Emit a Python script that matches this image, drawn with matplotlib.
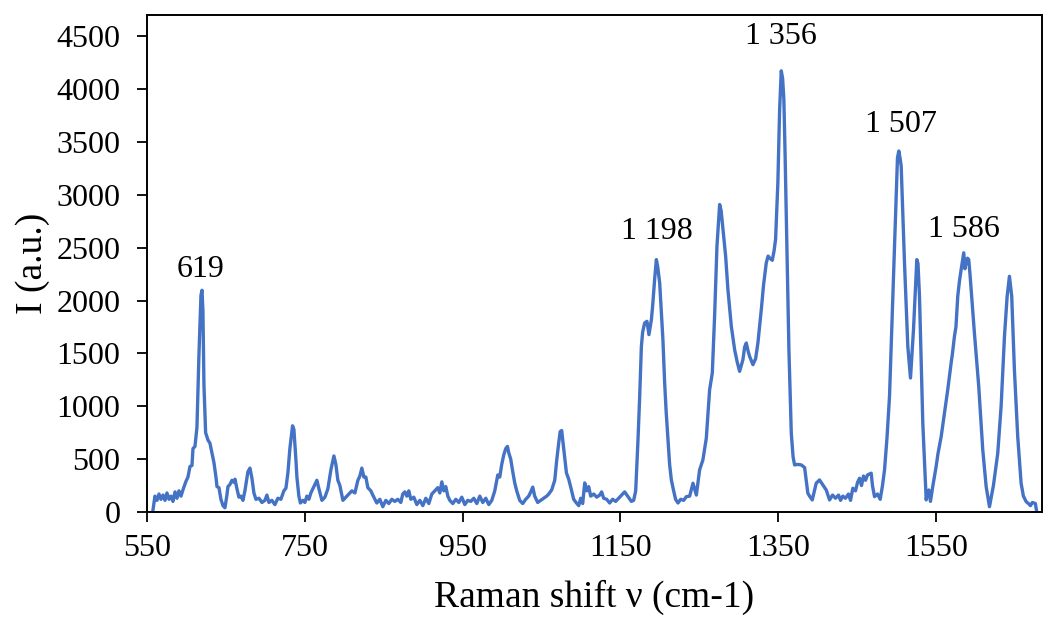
import matplotlib
matplotlib.use("Agg")
import matplotlib.pyplot as plt

# Raman spectrum
shift = [
    557.6, 560.1, 562.7, 565.2, 567.7, 570.3, 572.8, 575.3, 577.9, 580.4,
    582.9, 585.5, 588.0, 590.5, 593.1, 595.6, 599.4, 601.9, 604.5, 607.0,
    608.3, 610.8, 613.3, 615.9, 618.4, 619.7, 620.9, 622.2, 624.3, 627.3,
    629.8, 632.3, 634.9, 637.4, 638.7, 641.2, 643.7, 646.3, 648.8, 651.3,
    652.6, 655.1, 657.7, 660.2, 661.5, 664.0, 666.5, 669.1, 671.6, 674.1,
    677.9, 680.5, 683.0, 685.5, 688.1, 691.9, 695.7, 699.5, 702.0, 704.5,
    708.3, 712.1, 715.9, 719.7, 723.5, 726.1, 728.6, 731.1, 734.5, 736.2,
    738.7, 740.0, 742.5, 744.4, 747.6, 750.1, 752.7, 755.2, 757.7, 760.3,
    762.8, 765.3, 767.9, 770.4, 771.7, 775.5, 779.3, 783.1, 786.9, 789.4,
    791.9, 794.5, 798.3, 802.1, 805.9, 809.7, 813.5, 817.3, 819.8, 822.3,
    824.9, 827.4, 829.9, 833.7, 837.5, 841.3, 845.1, 848.9, 852.7, 856.5,
    860.3, 864.1, 867.9, 871.7, 874.2, 876.8, 879.3, 881.8, 884.4, 888.2,
    892.0, 895.8, 899.6, 903.4, 907.2, 911.0, 914.8, 918.6, 921.1, 923.7,
    926.2, 928.7, 931.3, 933.8, 937.6, 941.4, 945.2, 949.0, 952.8, 956.6,
    960.4, 964.2, 968.0, 971.8, 975.6, 979.4, 983.2, 987.0, 990.8, 994.6,
    997.1, 999.6, 1002.2, 1004.7, 1006.9, 1008.5, 1011.0, 1013.6, 1016.1, 1018.6,
    1022.4, 1026.2, 1030.0, 1033.8, 1036.4, 1038.9, 1041.4, 1045.2, 1049.0, 1052.8,
    1056.6, 1059.2, 1063.0, 1066.8, 1069.3, 1071.8, 1073.7, 1075.6, 1078.2, 1081.6,
    1084.5, 1087.9, 1090.8, 1094.3, 1097.2, 1099.7, 1102.2, 1104.8, 1107.3, 1109.8,
    1112.4, 1116.2, 1120.0, 1123.8, 1126.3, 1128.8, 1132.6, 1136.4, 1140.2, 1144.0,
    1147.8, 1151.6, 1155.4, 1159.2, 1163.9, 1166.8, 1169.4, 1172.3, 1174.5, 1176.6,
    1178.2, 1180.8, 1183.7, 1186.2, 1189.3, 1190.9, 1193.4, 1195.6, 1197.3, 1199.8,
    1201.9, 1203.9, 1206.1, 1208.0, 1210.3, 1212.4, 1214.6, 1217.5, 1220.0, 1223.0,
    1226.4, 1230.2, 1233.6, 1237.8, 1242.0, 1246.3, 1250.4, 1254.6, 1258.9, 1263.1,
    1266.5, 1269.4, 1272.4, 1275.8, 1277.7, 1280.0, 1283.4, 1286.3, 1290.6, 1294.8,
    1298.0, 1301.1, 1303.0, 1305.3, 1307.5, 1309.6, 1311.9, 1313.8, 1318.0, 1321.4,
    1324.3, 1326.4, 1328.6, 1331.5, 1334.9, 1337.2, 1339.1, 1342.5, 1344.8, 1346.7,
    1349.6, 1351.8, 1353.9, 1355.6, 1357.2, 1358.7, 1360.3, 1363.6, 1366.6, 1368.9,
    1370.8, 1374.6, 1379.3, 1383.5, 1387.6, 1389.8, 1393.2, 1398.2, 1402.4, 1406.2,
    1410.9, 1415.1, 1418.9, 1422.7, 1426.5, 1429.0, 1431.9, 1435.3, 1439.1, 1441.7,
    1444.6, 1448.0, 1450.6, 1453.1, 1455.6, 1458.1, 1460.7, 1463.2, 1467.9, 1469.5,
    1472.1, 1475.9, 1479.3, 1482.2, 1484.8, 1487.9, 1491.1, 1495.3, 1499.6, 1501.2,
    1502.9, 1504.4, 1505.9, 1510.1, 1514.3, 1517.7, 1521.5, 1525.7, 1527.2, 1529.1,
    1533.3, 1537.6, 1539.2, 1540.9, 1543.0, 1545.9, 1550.2, 1552.5, 1556.6, 1560.7,
    1564.9, 1569.2, 1570.9, 1573.4, 1575.3, 1577.6, 1579.7, 1581.9, 1585.2, 1586.7,
    1588.2, 1589.9, 1591.5, 1593.1, 1594.6, 1596.2, 1598.7, 1604.2, 1609.3, 1613.6,
    1617.8, 1620.3, 1622.8, 1628.3, 1632.6, 1636.8, 1640.2, 1643.1, 1646.0, 1649.4,
    1653.6, 1657.9, 1660.8, 1664.3, 1667.2, 1669.7, 1672.2, 1676.0, 1677.7,
]
intensity = [
    20, 150, 110, 170, 120, 160, 110, 180, 120, 150,
    100, 190, 130, 200, 150, 210, 290, 330, 430, 440,
    600, 620, 800, 1500, 2050, 2097, 1900, 1200, 750, 680,
    650, 560, 465, 330, 240, 230, 120, 60, 40, 160,
    240, 260, 300, 280, 310, 220, 140, 150, 110, 200,
    380, 415, 320, 180, 120, 130, 90, 110, 160, 90,
    110, 70, 130, 120, 200, 225, 370, 600, 815, 780,
    500, 330, 150, 85, 110, 90, 150, 120, 180, 220,
    260, 300, 220, 150, 110, 140, 220, 400, 530, 450,
    300, 250, 110, 140, 170, 200, 180, 300, 340, 415,
    330, 330, 230, 200, 140, 85, 120, 50, 110, 80,
    120, 100, 120, 90, 170, 190, 150, 200, 120, 140,
    70, 110, 60, 130, 80, 170, 200, 230, 180, 285,
    200, 240, 150, 110, 80, 120, 90, 140, 70, 110,
    100, 130, 80, 150, 90, 130, 70, 110, 200, 350,
    330, 450, 540, 600, 620, 560, 500, 380, 275, 200,
    110, 80, 120, 150, 190, 235, 150, 90, 110, 130,
    150, 170, 210, 300, 490, 650, 760, 770, 600, 370,
    310, 210, 120, 85, 60, 130, 80, 275, 200, 240,
    150, 170, 140, 160, 190, 130, 120, 85, 120, 100,
    130, 160, 190, 150, 100, 110, 200, 680, 1100, 1565,
    1700, 1788, 1803, 1677, 1819, 1950, 2200, 2387, 2320, 2167,
    1900, 1630, 1222, 950, 680, 450, 303, 200, 120, 85,
    120, 110, 145, 150, 272, 160, 398, 493, 698, 1156,
    1314, 1850, 2513, 2908, 2850, 2672, 2419, 2103, 1756, 1535,
    1420, 1330, 1380, 1440, 1560, 1598, 1520, 1471, 1393, 1450,
    1598, 1750, 1914, 2150, 2356, 2420, 2403, 2380, 2470, 2577,
    3114, 3800, 4172, 4100, 3903, 3400, 2798, 1535, 746, 520,
    445, 450, 445, 420, 177, 150, 114, 272, 303, 260,
    208, 114, 160, 130, 160, 110, 150, 130, 170, 110,
    225, 200, 280, 319, 250, 340, 300, 350, 367, 250,
    145, 170, 120, 250, 398, 700, 1092, 2040, 2987, 3350,
    3414, 3350, 3271, 2356, 1566, 1267, 1724, 2387, 2350, 2040,
    840, 114, 180, 208, 100, 240, 430, 550, 714, 935,
    1156, 1409, 1500, 1661, 1750, 2040, 2180, 2293, 2451, 2300,
    2356, 2400, 2387, 2250, 2103, 1950, 1693, 1187, 587, 240,
    50, 150, 250, 556, 1005, 1661, 2040, 2229, 2040, 1345,
    714, 272, 150, 98, 80, 60, 90, 80, 0,
]

# peak labels as printed on the chart
peak_labels = ["619", "1 198", "1 356", "1 507", "1 586"]
label_x = [618, 1196, 1354, 1506, 1586]
label_y = [2290, 2650, 4500, 3660, 2670]

x_ticks = [550, 750, 950, 1150, 1350, 1550]
y_ticks = [0, 500, 1000, 1500, 2000, 2500, 3000, 3500, 4000, 4500]

plt.rcParams['font.family'] = ['Liberation Serif', 'DejaVu Serif']

fig = plt.figure(figsize=(10.44, 6.17), dpi=100)
ax = fig.add_axes([0.1408, 0.1702, 0.857, 0.8055])

ax.plot(shift, intensity, color='#4472C4', linewidth=2.4)

for lab, lx, ly in zip(peak_labels, label_x, label_y):
    ax.text(lx, ly, lab, ha='center', va='center', fontsize=23, color='black')

ax.set_xticks(x_ticks)
ax.set_yticks(y_ticks)
ax.set_xlim(550, 1684)
ax.set_ylim(0, 4700)
ax.tick_params(axis='both', labelsize=23, direction='out', length=7, width=1.3)
ax.tick_params(axis='x', pad=9)
ax.tick_params(axis='y', pad=12)

for sp in ax.spines.values():
    sp.set_linewidth(1.4)
    sp.set_color('black')

ax.set_xlabel("Raman shift ν (cm-1)", fontsize=27, labelpad=12)
ax.set_ylabel("I (a.u.)", fontsize=27, labelpad=5)

fig.savefig("out.png", dpi=100)
